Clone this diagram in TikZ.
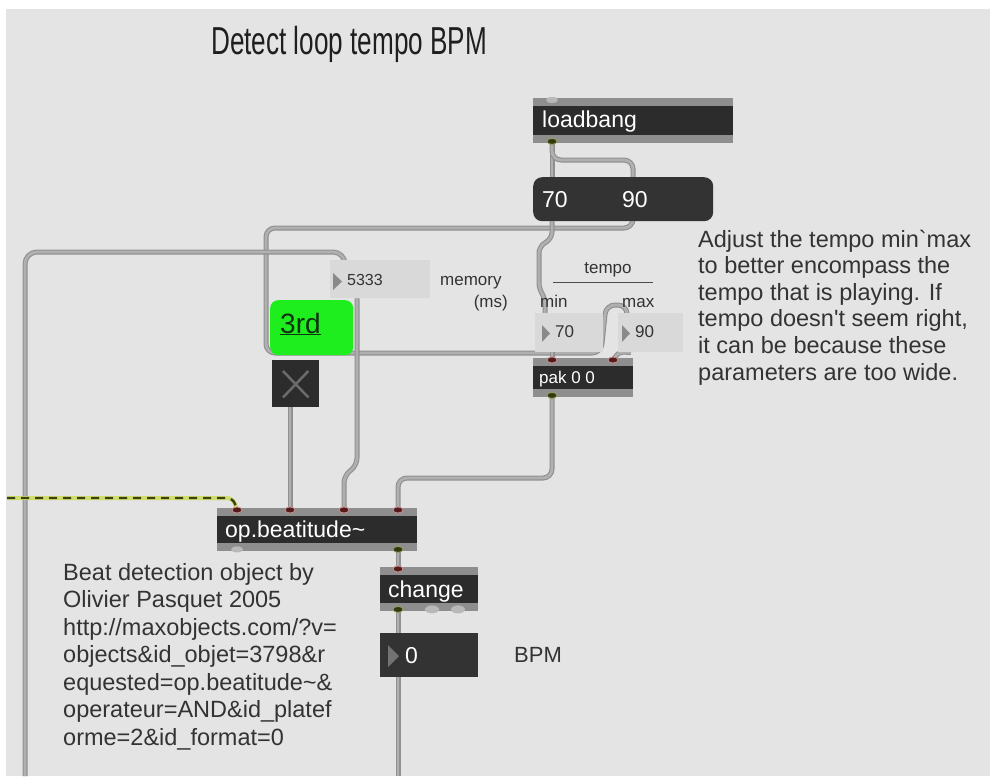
\documentclass[tikz,border=0pt]{standalone}
\usepackage{fontspec}
\setmainfont{Liberation Sans}
\usetikzlibrary{calc}
\pgfdeclarelayer{backdrop}
\pgfdeclarelayer{cords}
\pgfsetlayers{backdrop,cords,main}

\definecolor{patchbg}{HTML}{E4E4E4}
\definecolor{objbody}{HTML}{2C2C2C}
\definecolor{stripgrey}{HTML}{8E8E8E}
\definecolor{msgbody}{HTML}{333333}
\definecolor{numlight}{HTML}{D9D9D9}
\definecolor{cordedge}{HTML}{909090}
\definecolor{cordfill}{HTML}{B0B0B0}
\definecolor{sigyellow}{HTML}{D2DC6E}
\definecolor{sigdark}{HTML}{3A4212}
\definecolor{inred}{HTML}{551A1A}
\definecolor{inrim}{HTML}{C99090}
\definecolor{outgreen}{HTML}{2E3A10}
\definecolor{outrim}{HTML}{9AA060}
\definecolor{portlight}{HTML}{B8B8B8}
\definecolor{btngreen}{HTML}{1EEE1E}
\definecolor{btntext}{HTML}{123012}
\definecolor{cmttext}{HTML}{333333}
\definecolor{trigrey}{HTML}{8A8A8A}

\newcommand\pxfont[1]{\fontsize{#1}{#1}\selectfont}

\begin{document}
\begin{tikzpicture}[x=1pt,y=-1pt,
  objbox/.style={anchor=north west, inner sep=0pt, fill=objbody,
    path picture={
      \fill[stripgrey] (path picture bounding box.north west) rectangle ([yshift=-8pt]path picture bounding box.north east);
      \fill[stripgrey] (path picture bounding box.south west) rectangle ([yshift=8pt]path picture bounding box.south east);}},
  msgbox/.style={anchor=north west, inner sep=0pt, fill=msgbody, rounded corners=9pt},
  numbox/.style={anchor=north west, inner sep=0pt, fill=numlight},
  numdark/.style={anchor=north west, inner sep=0pt, fill=msgbody},
  greenbtn/.style={anchor=north west, inner sep=0pt, fill=btngreen, rounded corners=8pt},
  togglebox/.style={anchor=north west, inner sep=0pt, fill=objbody},
  cord/.style={rounded corners=9pt, line width=5pt, draw=cordedge,
    postaction={draw=cordfill, line width=2.8pt}},
  sigcord/.style={rounded corners=6pt, line width=4pt, draw=sigyellow,
    postaction={draw=sigdark, line width=2.4pt, dash pattern=on 8pt off 6pt}},
  boxtxt/.style={anchor=base west, inner sep=0pt, text=white, font=\pxfont{23}},
  smalltxt/.style={anchor=base west, inner sep=0pt, text=cmttext, font=\pxfont{17}},
  cmt/.style={anchor=base west, inner sep=0pt, text=cmttext, font=\pxfont{23.5}},
  portin/.style={fill=inred, draw=inrim, line width=0.8pt},
  portout/.style={fill=outgreen, draw=outrim, line width=0.8pt},
  portdim/.style={fill=portlight},
  tri/.style={fill=trigrey}
]
\useasboundingbox (0,0) rectangle (990,776);

% patcher background
\begin{pgfonlayer}{backdrop}
  \fill[white] (0,0) rectangle (990,776);
  \fill[patchbg] (6,9) rectangle (990,776);
\end{pgfonlayer}

% ---- objects ----
\node[objbox, minimum width=200pt, minimum height=45pt] (loadbang) at (533,98) {};
\node[msgbox, minimum width=180pt, minimum height=44pt] (range) at (533,177) {};
\node[numbox, minimum width=100pt, minimum height=38pt] (memnum) at (330,260) {};
\node[greenbtn, minimum width=83pt, minimum height=55pt] (third) at (270,300) {};
\node[togglebox, minimum width=47pt, minimum height=47pt] (tog) at (272,360) {};
\node[numbox, minimum width=68pt, minimum height=39pt] (minnum) at (535,313) {};
\node[numbox, minimum width=65pt, minimum height=39pt] (maxnum) at (618,313) {};
\node[objbox, minimum width=100pt, minimum height=39pt] (pak) at (533,358) {};
\node[objbox, minimum width=200pt, minimum height=43pt] (beat) at (217,508) {};
\node[objbox, minimum width=98pt, minimum height=44pt] (change) at (380,567) {};
\node[numdark, minimum width=98pt, minimum height=44pt] (bpmnum) at (380,633) {};

% ---- inlets and outlets ----
\coordinate (lb-in)    at ($(loadbang.north west)+(19,2)$);
\coordinate (lb-out)   at ($(loadbang.south west)+(19,-2)$);
\coordinate (range-in) at ($(range.north west)+(19,0)$);
\coordinate (range-out) at ($(range.south west)+(19,0)$);
\coordinate (mem-in)   at ($(memnum.north west)+(15,4)$);
\coordinate (mem-out)  at ($(memnum.south west)+(27,0)$);
\coordinate (tog-out)  at ($(tog.south west)+(18,0)$);
\coordinate (min-in)   at ($(minnum.north west)+(10,2)$);
\coordinate (min-out)  at ($(minnum.south west)+(17,0)$);
\coordinate (max-in)   at ($(maxnum.north west)+(9,2)$);
\coordinate (max-out)  at ($(maxnum.south west)+(13,0)$);
\coordinate (pak-in1)  at ($(pak.north west)+(19,2)$);
\coordinate (pak-in2)  at ($(pak.north west)+(80,2)$);
\coordinate (pak-out)  at ($(pak.south west)+(19,-2)$);
\coordinate (beat-in1) at ($(beat.north west)+(20,2)$);
\coordinate (beat-in2) at ($(beat.north west)+(73,2)$);
\coordinate (beat-in3) at ($(beat.north west)+(127,2)$);
\coordinate (beat-in4) at ($(beat.north west)+(181,2)$);
\coordinate (beat-out1) at ($(beat.south west)+(20,-2)$);
\coordinate (beat-out2) at ($(beat.south west)+(181,-2)$);
\coordinate (change-in) at ($(change.north west)+(18,2)$);
\coordinate (change-out) at ($(change.south west)+(18,-2)$);
\coordinate (change-out2) at ($(change.south west)+(52,-2)$);
\coordinate (change-out3) at ($(change.south west)+(78,-2)$);
\coordinate (bpm-in)   at ($(bpmnum.north west)+(18,0)$);
\coordinate (bpm-out)  at ($(bpmnum.south west)+(18,0)$);
\coordinate (sig-src)  at (7,498);
\coordinate (feed-l)   at (25,776);
\coordinate (feed-r)   at ($(bpm-out |- 0,776)$);

% ---- patch cords (behind the objects) ----
\begin{pgfonlayer}{cords}
  \draw[cord] (lb-out) -- (range-in);
  \draw[cord] (lb-out) -- (552,160) -- (633,160) -- (633,228) -- (266,228)
     -- (266,353) -- (601,353) -- (606,305) -- (627,305) -- (max-in);
  \draw[cord, rounded corners=6pt] (range-out) -- (552,238) -- (539,247)
     -- (539,289) -- (545,298) -- (min-in);
  \draw[cord] (min-out) -- (pak-in1);
  \draw[cord, rounded corners=4pt] (max-out) -- (619,352) -- (pak-in2);
  \draw[cord] (pak-out) -- (552,478) -- (398,478) -- (beat-in4);
  \draw[cord, rounded corners=7pt] (mem-out) -- (357,465) -- (344,476) -- (beat-in3);
  \draw[cord] (tog-out) -- (beat-in2);
  \draw[cord, rounded corners=12pt] (feed-l) -- (25,252) -- (345,252) -- (mem-in);
  \draw[sigcord] (sig-src) -- (233,498) -- (beat-in1);
  \draw[cord] (beat-out2) -- (change-in);
  \draw[cord] (change-out) -- (bpm-in);
  \draw[cord] (bpm-out) -- (feed-r);
\end{pgfonlayer}

% ---- port markers ----
\path[portdim] (lb-in) ellipse (6 and 3);
\path[portout] (lb-out) ellipse (5 and 3);
\path[portin] (pak-in1) ellipse (5 and 3);
\path[portin] (pak-in2) ellipse (5 and 3);
\path[portout] (pak-out) ellipse (5 and 3);
\path[portin] (beat-in1) ellipse (5 and 3);
\path[portin] (beat-in2) ellipse (5 and 3);
\path[portin] (beat-in3) ellipse (5 and 3);
\path[portin] (beat-in4) ellipse (5 and 3);
\path[portdim] (beat-out1) ellipse (6 and 3);
\path[portout] (beat-out2) ellipse (5 and 3);
\path[portin] (change-in) ellipse (5 and 3);
\path[portout] (change-out) ellipse (5 and 3);
\path[portdim] (change-out2) ellipse (7 and 4);
\path[portdim] (change-out3) ellipse (7 and 4);

% ---- number box arrows and toggle cross ----
\fill[tri] ($(memnum.north west)+(3,13)$) -- ++(0,17) -- ++(9,-8.5) -- cycle;
\fill[tri] ($(minnum.north west)+(7,12)$) -- ++(0,17) -- ++(8,-8.5) -- cycle;
\fill[tri] ($(maxnum.north west)+(4,12)$) -- ++(0,17) -- ++(8,-8.5) -- cycle;
\fill[fill=black!55] ($(bpmnum.north west)+(8,12)$) -- ++(0,22) -- ++(11,-11) -- cycle;
\draw[black!58, line width=2.5pt]
  ($(tog.north west)+(11,11)$) -- ($(tog.south east)+(-11,-10)$)
  ($(tog.north east)+(-11,11)$) -- ($(tog.south west)+(11,-10)$);

% ---- texts ----
\node[anchor=base west, inner sep=0pt, text=black!88, font=\pxfont{39}] (title) at (211,55) {\scalebox{0.67}[1]{Detect loop tempo BPM}};
\node[boxtxt] (lbtxt) at (542,127) {loadbang};
\node[boxtxt] (rangelo) at (542,207) {70};
\node[boxtxt] (rangehi) at (622,207) {90};
\node[smalltxt, font=\pxfont{16}] (memval) at (347,285) {5333};
\node[smalltxt] (memlbl) at (440,285) {memory};
\node[smalltxt, anchor=base east] (mslbl) at (508,307) {(ms)};
\node[smalltxt, anchor=base] (tempolbl) at (608,273) {tempo};
\draw[black!70, line width=1pt] (553,282) -- (653,282);
\node[smalltxt] (minlbl) at (540,307) {min};
\node[smalltxt] (maxlbl) at (622,307) {max};
\node[smalltxt] (minval) at (555,337) {70};
\node[smalltxt] (maxval) at (635,337) {90};
\node[boxtxt, font=\pxfont{17}] (paktxt) at (539,383) {pak 0 0};
\node[anchor=base west, inner sep=0pt, text=btntext, font=\pxfont{28}] (thirdtxt) at (280,333) {\underline{3rd}};
\node[boxtxt] (beattxt) at (225,537) {op.beatitude\textasciitilde};
\node[boxtxt] (changetxt) at (388,597) {change};
\node[boxtxt] (bpmval) at (405,663) {0};
\node[cmt, font=\pxfont{22}] (bpmlbl) at (514,662) {BPM};

\foreach \t [count=\i] in {Adjust the tempo min\textasciigrave max,
    to better encompass the, tempo that is playing. If,
    {tempo doesn\textquotesingle t seem right,}, it can be because these,
    parameters are too wide.}
  \node[cmt] (adjust\i) at (698,{247+26.6*(\i-1)}) {\t};

\foreach \t [count=\i] in {Beat detection object by, Olivier Pasquet 2005,
    http://maxobjects.com/?v=, objects\&id\_objet=3798\&r,
    equested=op.beatitude\textasciitilde\&, operateur=AND\&id\_platef,
    orme=2\&id\_format=0}
  \node[cmt] (credit\i) at (63,{580+27.5*(\i-1)}) {\t};
\end{tikzpicture}
\end{document}
